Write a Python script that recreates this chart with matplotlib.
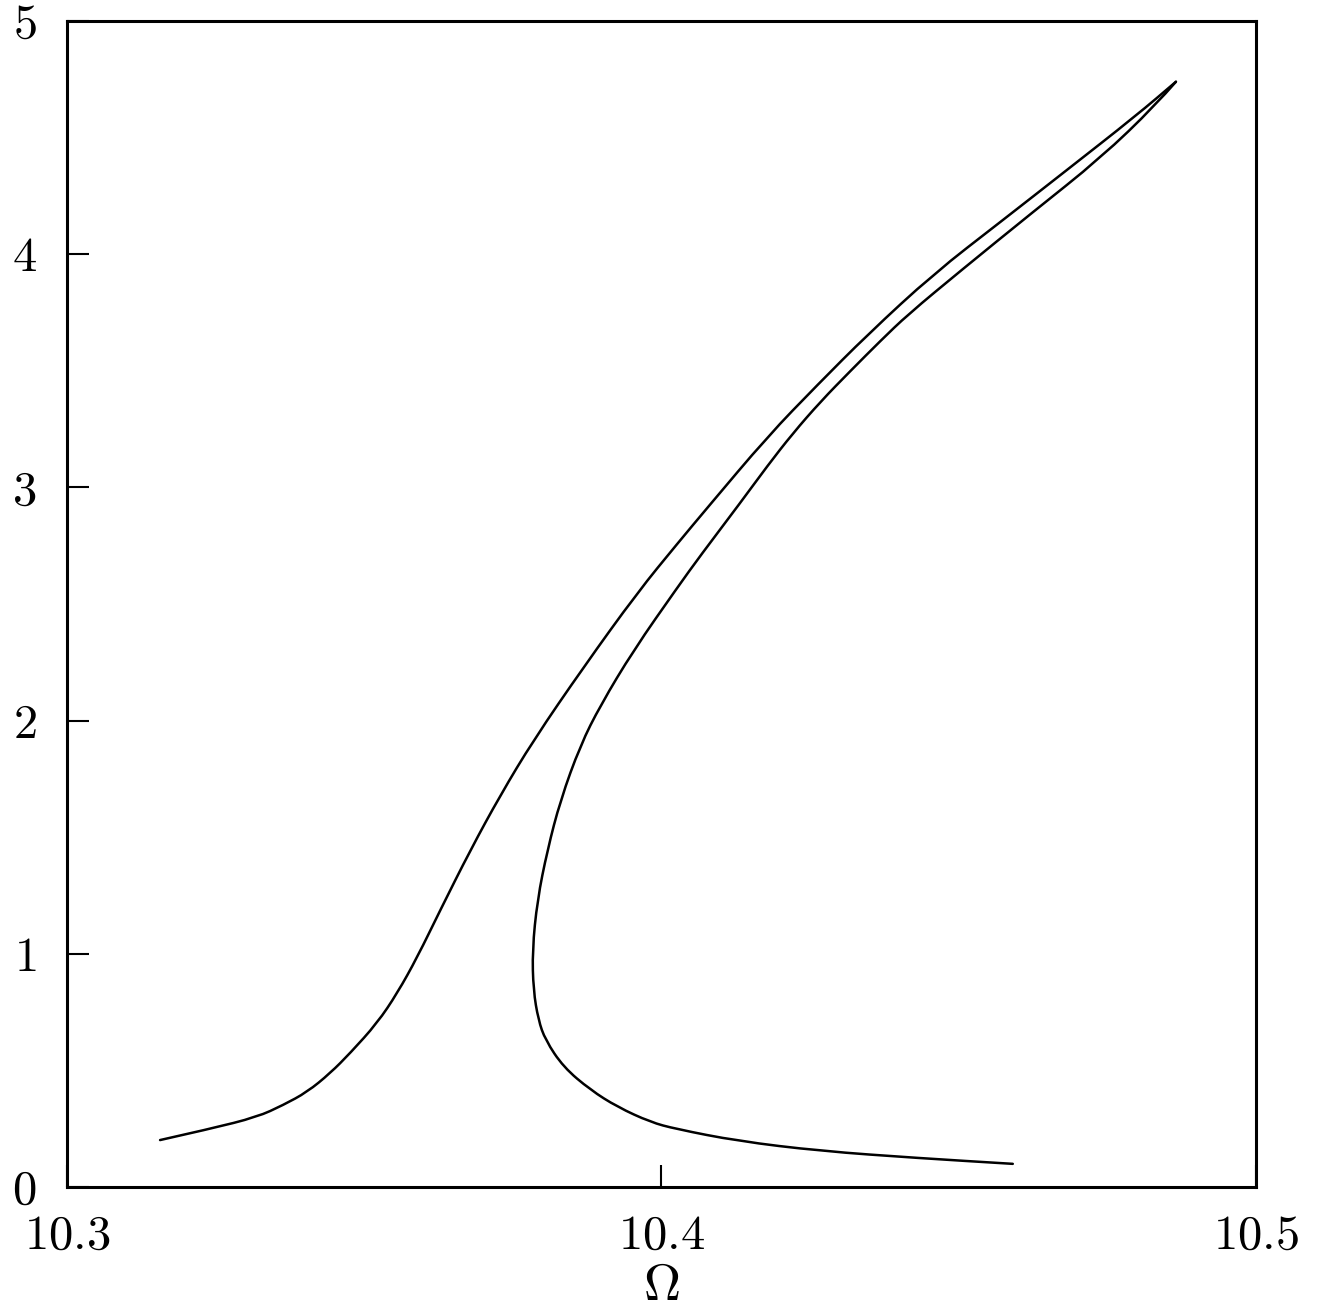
import numpy as np
import matplotlib
matplotlib.use("Agg")
import matplotlib.pyplot as plt
from matplotlib.path import Path
from matplotlib.patches import PathPatch

plt.rcParams['mathtext.fontset'] = 'cm'
plt.rcParams['font.family'] = 'serif'
plt.rcParams['font.serif'] = ['cmr10', 'DejaVu Serif']
plt.rcParams['axes.formatter.use_mathtext'] = True

# left branch, from lower left up to the tip
omega_a = [10.31566, 10.32407, 10.33199, 10.33636, 10.34040, 10.34428, 10.34764,
           10.35219, 10.35556, 10.35892, 10.36279, 10.36785, 10.37290, 10.37845,
           10.38687, 10.39596, 10.40269, 10.40774, 10.41785, 10.42626, 10.43468,
           10.44579, 10.45707, 10.46801, 10.47980, 10.48653]
amp_a = [0.201, 0.249, 0.300, 0.351, 0.407, 0.488, 0.574, 0.703, 0.831, 0.985,
         1.187, 1.444, 1.680, 1.915, 2.228, 2.549, 2.759, 2.913, 3.218, 3.440,
         3.655, 3.916, 4.139, 4.357, 4.593, 4.739]

# right branch, from the tip down to lower right
omega_b = [10.48653, 10.48316, 10.47391, 10.46212, 10.45034, 10.44141, 10.43687,
           10.43182, 10.42677, 10.42205, 10.41785, 10.41330, 10.40657, 10.40269,
           10.39529, 10.38973, 10.38636, 10.38300, 10.38081, 10.37912, 10.37828,
           10.37845, 10.37929, 10.38047, 10.38350, 10.38805, 10.39259, 10.39815,
           10.40236, 10.41279, 10.42677, 10.44310, 10.45909]
amp_b = [4.739, 4.640, 4.413, 4.173, 3.929, 3.740, 3.629, 3.500, 3.368, 3.230,
         3.093, 2.935, 2.708, 2.571, 2.301, 2.065, 1.894, 1.658, 1.444, 1.230,
         1.015, 0.844, 0.716, 0.630, 0.514, 0.416, 0.343, 0.278, 0.249, 0.197,
         0.154, 0.124, 0.099]

x_ticks = [10.3, 10.4, 10.5]
x_labels = ['10.3', '10.4', '10.5']
y_ticks = [0, 1, 2, 3, 4, 5]


def smooth_path(xs, ys):
    # quadratic pieces through the midpoints, read points act as controls
    pts = np.column_stack([xs, ys])
    verts = [pts[0]]
    codes = [Path.MOVETO]
    for i in range(1, len(pts) - 1):
        mid = (pts[i] + pts[i + 1]) / 2
        verts += [pts[i], mid]
        codes += [Path.CURVE3, Path.CURVE3]
    verts.append(pts[-1])
    codes.append(Path.LINETO)
    return Path(verts, codes)


fig = plt.figure(figsize=(13.21, 13.14), dpi=100)
ax = fig.add_axes([0.0507, 0.0967, 0.9001, 0.8874])

for xs, ys in [(omega_a, amp_a), (omega_b, amp_b)]:
    ax.add_patch(PathPatch(smooth_path(xs, ys), facecolor='none',
                           edgecolor='black', lw=1.8, capstyle='round'))

ax.set_xlim(10.3, 10.5)
ax.set_ylim(0, 5)

ax.set_xticks(x_ticks)
ax.set_xticklabels([r'$' + s + '$' for s in x_labels])
ax.set_yticks(y_ticks)
ax.set_yticklabels([r'$%d$' % v for v in y_ticks])

ax.tick_params(axis='both', direction='in', length=16, width=1.5,
               labelsize=35, top=False, right=False)
ax.tick_params(axis='y', pad=22)
ax.tick_params(axis='x', pad=20)

for s in ax.spines.values():
    s.set_linewidth(2.2)

ax.set_xlabel(r'$\Omega$', fontsize=37, labelpad=4)

fig.savefig("out.png", dpi=100)
